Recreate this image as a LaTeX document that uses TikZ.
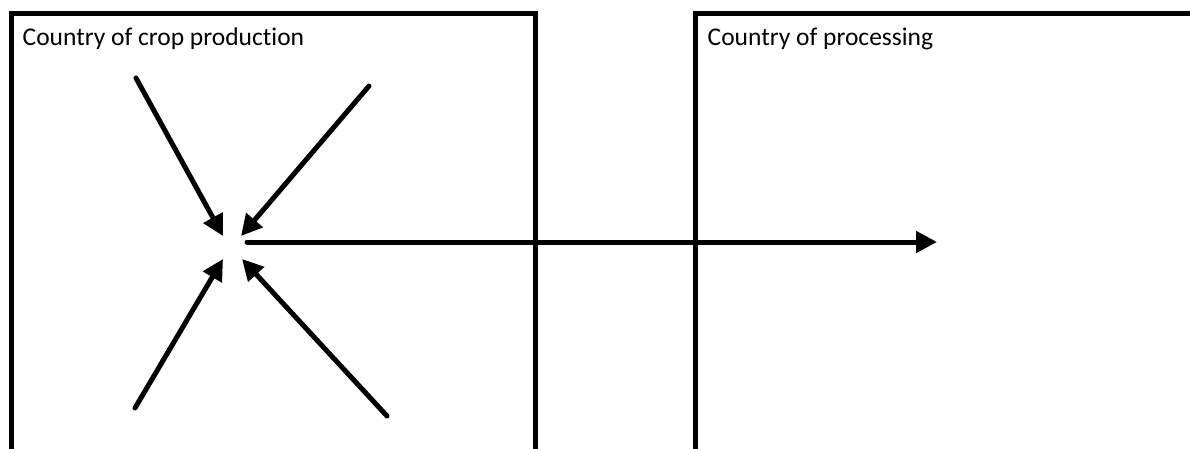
\documentclass[tikz,border=0pt]{standalone}
\usepackage{fontspec}
\setmainfont{Carlito}[Ligatures=NoCommon]
\usetikzlibrary{arrows.meta}
\begin{document}
\begin{tikzpicture}[x=1pt,y=-1pt,
  boxline/.style={draw=black,line width=5pt},
  flow/.style={draw=black,line width=5pt,line cap=round,-{Triangle[length=21pt,width=21pt]}},
  lbl/.style={anchor=base west,inner sep=0pt,font=\fontsize{25.5}{30}\selectfont}]
\useasboundingbox (0,0) rectangle (1190,448);
\begin{scope}
\clip (0,0) rectangle (1190,448);
\draw[boxline] (11.5,13.5) rectangle (535.5,470);
\draw[boxline] (695.5,13.5) rectangle (1210,470);
\end{scope}
\node[lbl] (lp) at (22.5,45.5) {Country of crop production};
\node[lbl] (lq) at (707.5,45.5) {Country of processing};
\coordinate (a1) at (136,78);
\coordinate (a2) at (369,86);
\coordinate (a3) at (135,408);
\coordinate (a4) at (387,416);
\coordinate (t1) at (223,236);
\coordinate (t2) at (241,236);
\coordinate (t3) at (223,259);
\coordinate (t4) at (242,259);
\coordinate (h0) at (247,242);
\coordinate (h1) at (937,242);
\draw[flow] (a1) -- (t1);
\draw[flow] (a2) -- (t2);
\draw[flow] (a3) -- (t3);
\draw[flow] (a4) -- (t4);
\draw[flow] (h0) -- (h1);
\end{tikzpicture}
\end{document}
